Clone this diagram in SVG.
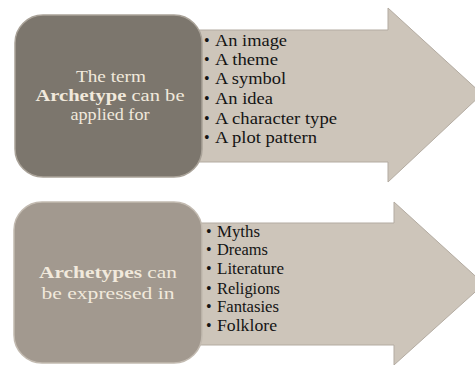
<svg xmlns="http://www.w3.org/2000/svg" width="475" height="365" viewBox="0 0 475 365">
<style>
.arrow{fill:#cdc5ba;stroke:#b3aba1;stroke-width:1}
.box1{fill:#7c766d;stroke:#a9a298;stroke-width:1.5}
.box2{fill:#a2998f;stroke:#c2bab0;stroke-width:1.5}
.lt{font-family:'Liberation Serif','DejaVu Serif',serif;font-size:17px;fill:#f1e9dc;text-anchor:middle}
.li{font-family:'Liberation Serif','DejaVu Serif',serif;font-size:16.5px;fill:#141414}
.bu{font-family:'Liberation Serif','DejaVu Serif',serif;font-size:16px;fill:#141414}
.b{font-weight:bold}
</style>
<rect width="475" height="365" fill="#ffffff"/>
<g id="connectors">
<path class="arrow" d="M190,30 H388 V8 L482,94 L388,182 V162 H190 Z"/>
<path class="arrow" d="M190,223 H394 V202 L484,284 L394,365 V345 H190 Z"/>
</g>
<g id="node-top">
<rect class="box1" x="15" y="15" width="187" height="162" rx="28" ry="28"/>
<text class="lt" x="111" y="82" textLength="70" lengthAdjust="spacingAndGlyphs">The term</text>
<text class="lt" x="110" y="101" textLength="149" lengthAdjust="spacingAndGlyphs"><tspan class="b">Archetype</tspan> can be</text>
<text class="lt" x="110" y="120" textLength="79" lengthAdjust="spacingAndGlyphs">applied for</text>
</g>
<g id="list-top">
<text class="bu" x="204" y="46">•</text><text class="li" x="215" y="46" textLength="72" lengthAdjust="spacingAndGlyphs">An image</text>
<text class="bu" x="204" y="65">•</text><text class="li" x="215" y="65" textLength="63" lengthAdjust="spacingAndGlyphs">A theme</text>
<text class="bu" x="204" y="84">•</text><text class="li" x="215" y="84" textLength="71" lengthAdjust="spacingAndGlyphs">A symbol</text>
<text class="bu" x="204" y="104">•</text><text class="li" x="215" y="104" textLength="58" lengthAdjust="spacingAndGlyphs">An idea</text>
<text class="bu" x="204" y="124">•</text><text class="li" x="215" y="124" textLength="122" lengthAdjust="spacingAndGlyphs">A character type</text>
<text class="bu" x="204" y="143">•</text><text class="li" x="215" y="143" textLength="102" lengthAdjust="spacingAndGlyphs">A plot pattern</text>
</g>
<g id="node-bottom">
<rect class="box2" x="14" y="202" width="188" height="161" rx="28" ry="28"/>
<text class="lt" x="108" y="278" textLength="138" lengthAdjust="spacingAndGlyphs"><tspan class="b">Archetypes</tspan> can</text>
<text class="lt" x="108" y="299" textLength="133" lengthAdjust="spacingAndGlyphs">be expressed in</text>
</g>
<g id="list-bottom">
<text class="bu" x="206" y="237">•</text><text class="li" x="217" y="237" textLength="43" lengthAdjust="spacingAndGlyphs">Myths</text>
<text class="bu" x="206" y="255">•</text><text class="li" x="217" y="255" textLength="51" lengthAdjust="spacingAndGlyphs">Dreams</text>
<text class="bu" x="206" y="274">•</text><text class="li" x="217" y="274" textLength="67" lengthAdjust="spacingAndGlyphs">Literature</text>
<text class="bu" x="206" y="294">•</text><text class="li" x="217" y="294" textLength="63" lengthAdjust="spacingAndGlyphs">Religions</text>
<text class="bu" x="206" y="312">•</text><text class="li" x="217" y="312" textLength="62" lengthAdjust="spacingAndGlyphs">Fantasies</text>
<text class="bu" x="206" y="331">•</text><text class="li" x="217" y="331" textLength="60" lengthAdjust="spacingAndGlyphs">Folklore</text>
</g>
</svg>
